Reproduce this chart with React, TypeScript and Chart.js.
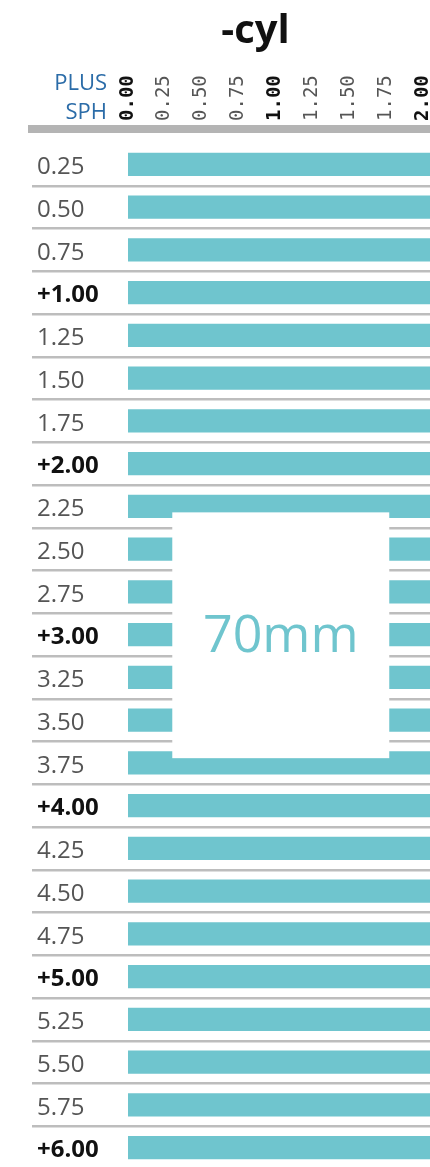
import React, { useEffect, useRef } from "react";
import { Chart, registerables } from "chart.js";

Chart.register(...registerables);

// ---- data ----
const titleText = "-cyl";
const headerLines = ["PLUS", "SPH"];
const sphLabels = [
  "0.25", "0.50", "0.75", "+1.00",
  "1.25", "1.50", "1.75", "+2.00",
  "2.25", "2.50", "2.75", "+3.00",
  "3.25", "3.50", "3.75", "+4.00",
  "4.25", "4.50", "4.75", "+5.00",
  "5.25", "5.50", "5.75", "+6.00",
];
// cylinder range available for each sphere row (from 0.00 up to this value)
const cylMax = [
  2.5, 2.5, 2.5, 2.5, 2.5, 2.5, 2.5, 2.5,
  2.5, 2.5, 2.5, 2.5, 2.5, 2.5, 2.5, 2.5,
  2.5, 2.5, 2.5, 2.5, 2.5, 2.5, 2.5, 2.5,
];
const cylTickValues = [0, 0.25, 0.5, 0.75, 1, 1.25, 1.5, 1.75, 2, 2.25, 2.5];
const cylTickLabels = ["0.00", "0.25", "0.50", "0.75", "1.00", "1.25", "1.50", "1.75", "2.00", "2.25", "2.50"];
const boxLabel = "70mm";
const boxCylRange = [0.3, 1.77];
const boxSphRange = [8.14, 13.89]; // in row-index units

const TEAL = "#6fc5ce";

const overlayPlugin = {
  id: "overlay",
  beforeDatasetsDraw(chart: any) {
    const { ctx, chartArea } = chart;
    const yScale = chart.scales.y;
    ctx.save();
    // header rule
    ctx.fillStyle = "#b4b4b4";
    ctx.fillRect(yScale.left + 14, chartArea.top - 18, chart.width, 8);
    // PLUS / SPH header
    ctx.fillStyle = "#2b6ca8";
    ctx.font = '22px "Open Sans"';
    ctx.textAlign = "right";
    ctx.textBaseline = "alphabetic";
    ctx.fillText(headerLines[0], chartArea.left - 21, chartArea.top - 53);
    ctx.fillText(headerLines[1], chartArea.left - 21, chartArea.top - 24);
    ctx.restore();
  },
  afterDatasetsDraw(chart: any) {
    const { ctx } = chart;
    const x = chart.scales.x;
    const y = chart.scales.y;
    const x1 = x.getPixelForValue(boxCylRange[0]);
    const x2 = x.getPixelForValue(boxCylRange[1]);
    const y1 = y.getPixelForValue(boxSphRange[0]);
    const y2 = y.getPixelForValue(boxSphRange[1]);
    ctx.save();
    ctx.fillStyle = "#ffffff";
    ctx.fillRect(x1, y1, x2 - x1, y2 - y1);
    ctx.fillStyle = TEAL;
    ctx.font = '52px "Open Sans"';
    ctx.textAlign = "center";
    ctx.textBaseline = "alphabetic";
    ctx.fillText(boxLabel, (x1 + x2) / 2, (y1 + y2) / 2 + 17);
    ctx.restore();
  },
};

export default function App() {
  const ref = useRef<HTMLCanvasElement>(null);
  useEffect(() => {
    if (!ref.current) return;
    const chart = new Chart(ref.current, {
      type: "bar",
      data: {
        labels: sphLabels,
        datasets: [
          {
            data: cylMax,
            backgroundColor: TEAL,
            borderWidth: 0,
            barPercentage: 0.54,
            categoryPercentage: 1,
          },
        ],
      },
      options: {
        indexAxis: "y",
        responsive: false,
        animation: false,
        devicePixelRatio: 1,
        layout: { padding: { left: 14, right: 30, top: 0, bottom: 0 } },
        plugins: {
          legend: { display: false },
          tooltip: { enabled: false },
          title: {
            display: true,
            text: titleText,
            color: "#111",
            font: { family: '"Open Sans"', size: 40, weight: "bold", lineHeight: 1.2 },
            padding: { top: 8, bottom: 0 },
          },
        },
        scales: {
          x: {
            position: "top",
            min: 0,
            max: 2.5,
            grid: { display: false, drawTicks: false },
            border: { display: false },
            afterFit: (s: any) => {
              s.height = 87;
            },
            afterBuildTicks: (s: any) => {
              s.ticks = cylTickValues.map((v) => ({ value: v }));
            },
            ticks: {
              autoSkip: false,
              minRotation: 90,
              maxRotation: 90,
              padding: 22,
              callback: (v: any) => {
                const i = cylTickValues.indexOf(Number(v));
                return i >= 0 ? cylTickLabels[i] : "";
              },
              color: (c: any) => (c.tick && Number.isInteger(c.tick.value) ? "#111" : "#555"),
              font: (c: any) => ({
                family: '"DejaVu Sans Mono"',
                size: 19,
                lineHeight: 0.02,
                weight: c.tick && Number.isInteger(c.tick.value) ? "bold" : "normal",
              }),
            },
          },
          y: {
            afterFit: (s: any) => {
              s.width = 114;
            },
            grid: {
              color: (c: any) => (c.index === 0 ? "rgba(0,0,0,0)" : "#bdbdbd"),
              lineWidth: 2.5,
              tickLength: 96,
            },
            border: { display: false },
            ticks: {
              autoSkip: false,
              mirror: true,
              padding: -91,
              // an empty first line nudges each label slightly downward in its row
              callback: (_v: any, i: number) => ["", sphLabels[i]],
              color: (c: any) => (sphLabels[c.index] && sphLabels[c.index].startsWith("+") ? "#111" : "#555"),
              font: (c: any) => ({
                family: '"Open Sans"',
                size: 24,
                lineHeight: 0.25,
                weight: sphLabels[c.index] && sphLabels[c.index].startsWith("+") ? "bold" : "normal",
              }),
            },
          },
        },
      },
      plugins: [overlayPlugin],
    } as any);
    return () => chart.destroy();
  }, []);
  return (
    <div
      style={{
        position: "fixed",
        left: 0,
        top: 0,
        width: 430,
        height: 1167,
        overflow: "hidden",
        background: "#fff",
      }}
    >
      <canvas ref={ref} width={527} height={1169} style={{ display: "block" }} />
    </div>
  );
}
